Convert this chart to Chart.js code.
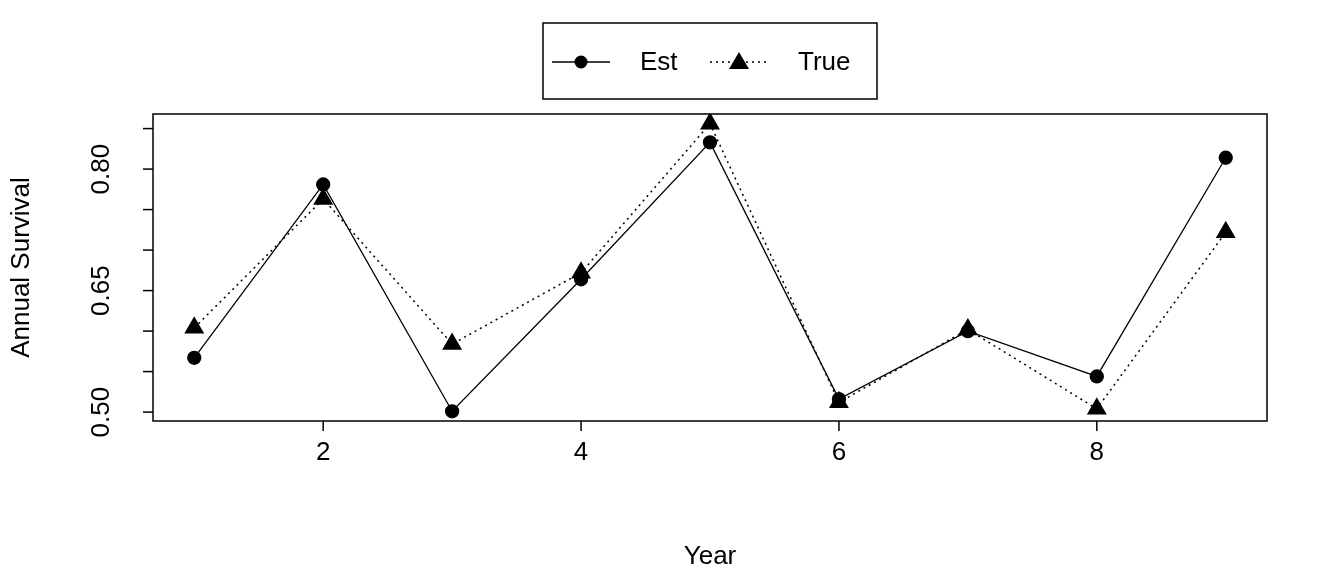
<!DOCTYPE html>
<html><head><meta charset="utf-8">
<script src="https://cdn.jsdelivr.net/npm/chart.js@4"></script>
<style>html,body{margin:0;background:#fff}</style>
</head><body>
<canvas id="c" width="1344" height="576"></canvas>
<script>
const years = [1, 2, 3, 4, 5, 6, 7, 8, 9];
const estValues = [0.567, 0.781, 0.501, 0.664, 0.833, 0.516, 0.600, 0.544, 0.814];
const trueValues = [0.604, 0.763, 0.584, 0.672, 0.856, 0.512, 0.602, 0.504, 0.722];
const xTicks = [2, 4, 6, 8];
const yTicks = [0.50, 0.55, 0.60, 0.65, 0.70, 0.75, 0.80, 0.85];
const yLabels = [0.50, 0.65, 0.80];
const FONT = '26px "Liberation Sans", Arial, sans-serif';

const axesPlugin = {
  id: 'rAxes',
  afterDraw(chart) {
    const ctx = chart.ctx, a = chart.chartArea;
    const xs = chart.scales.x, ys = chart.scales.y;
    ctx.save();
    ctx.strokeStyle = '#000'; ctx.lineWidth = 1.5; ctx.fillStyle = '#000';
    ctx.strokeRect(a.left, a.top, a.right - a.left, a.bottom - a.top);
    ctx.font = FONT;
    ctx.textAlign = 'center'; ctx.textBaseline = 'middle';
    xTicks.forEach(v => {
      const px = xs.getPixelForValue(v);
      ctx.beginPath(); ctx.moveTo(px, a.bottom); ctx.lineTo(px, a.bottom + 10); ctx.stroke();
      ctx.fillText(String(v), px, 453);
    });
    yTicks.forEach(v => {
      const py = ys.getPixelForValue(v);
      ctx.beginPath(); ctx.moveTo(a.left, py); ctx.lineTo(a.left - 10, py); ctx.stroke();
    });
    yLabels.forEach(v => {
      const py = ys.getPixelForValue(v);
      ctx.save(); ctx.translate(102, py); ctx.rotate(-Math.PI / 2);
      ctx.fillText(v.toFixed(2), 0, 0); ctx.restore();
    });
    ctx.fillText('Year', (a.left + a.right) / 2, 557);
    ctx.save(); ctx.translate(22, (a.top + a.bottom) / 2); ctx.rotate(-Math.PI / 2);
    ctx.fillText('Annual Survival', 0, 0); ctx.restore();

    // legend
    ctx.strokeRect(543, 23, 334, 76);
    ctx.beginPath(); ctx.moveTo(552, 62); ctx.lineTo(610, 62); ctx.stroke();
    ctx.beginPath(); ctx.arc(581, 62, 6.5, 0, Math.PI * 2); ctx.fill();
    ctx.setLineDash([2, 4]);
    ctx.beginPath(); ctx.moveTo(710, 62); ctx.lineTo(768, 62); ctx.stroke();
    ctx.setLineDash([]);
    ctx.beginPath(); ctx.moveTo(739, 52); ctx.lineTo(749, 69); ctx.lineTo(729, 69); ctx.closePath(); ctx.fill();
    ctx.textAlign = 'left';
    ctx.fillText('Est', 640, 63);
    ctx.fillText('True', 798, 63);
    ctx.restore();
  }
};

new Chart(document.getElementById('c'), {
  type: 'line',
  data: {
    datasets: [
      {
        label: 'Est',
        data: years.map((x, i) => ({ x, y: estValues[i] })),
        borderColor: '#000', borderWidth: 1.3,
        pointStyle: 'circle', pointRadius: 6.5,
        pointBackgroundColor: '#000', pointBorderColor: '#000'
      },
      {
        label: 'True',
        data: years.map((x, i) => ({ x, y: trueValues[i] })),
        borderColor: '#000', borderWidth: 1.5, borderDash: [2, 4],
        pointStyle: 'triangle', pointRadius: 10,
        pointBackgroundColor: '#000', pointBorderColor: '#000'
      }
    ]
  },
  options: {
    responsive: false, animation: false,
    layout: { padding: { left: 153, right: 77, top: 114, bottom: 155 } },
    plugins: { legend: { display: false }, tooltip: { enabled: false } },
    scales: {
      x: { type: 'linear', min: 0.68, max: 9.32, display: false },
      y: { type: 'linear', min: 0.489, max: 0.868, display: false }
    }
  },
  plugins: [axesPlugin]
});
</script>
</body></html>
